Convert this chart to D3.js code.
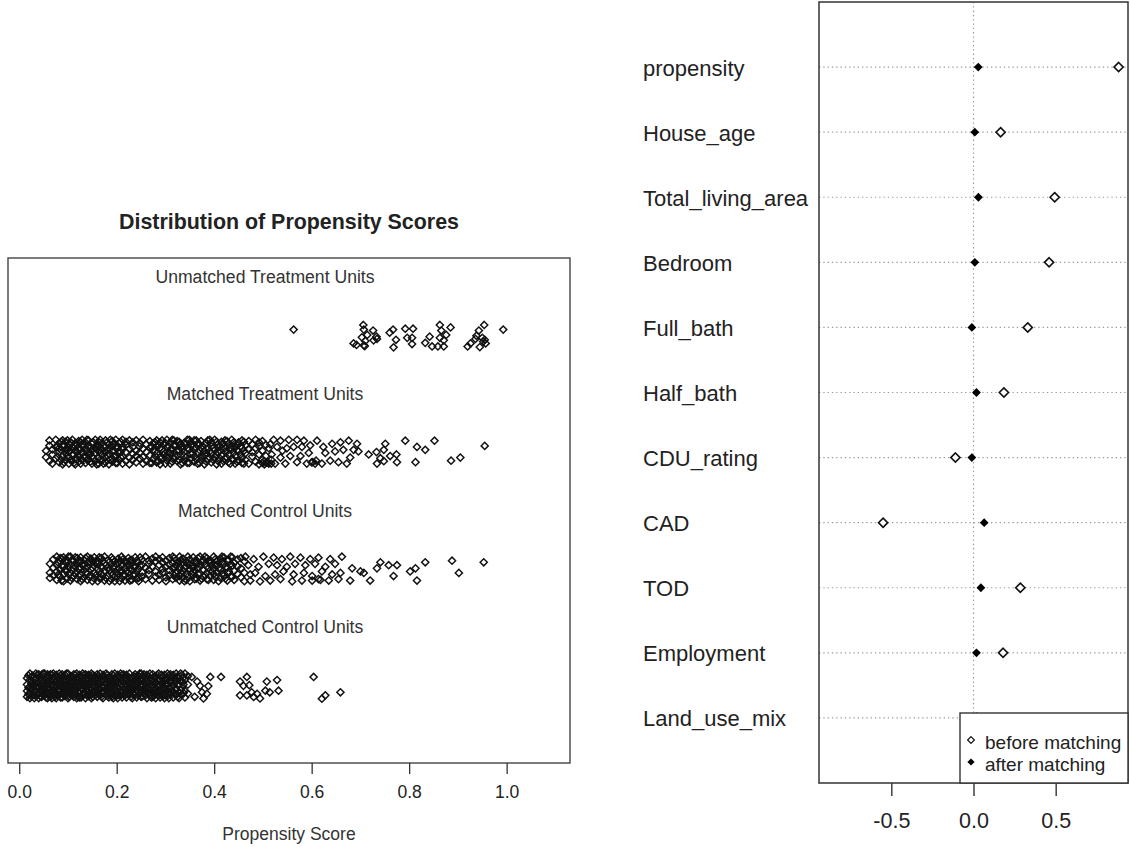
<!DOCTYPE html>
<html>
<head>
<meta charset="utf-8">
<script src="https://cdn.jsdelivr.net/npm/d3@7"></script>
<style>
  body { margin: 0; background: #fff; }
  text { font-family: "Liberation Sans", Arial, sans-serif; fill: #222; }
</style>
</head>
<body>
<script>
// ---------- balance plot (right) ----------
var covariates = ["propensity", "House_age", "Total_living_area", "Bedroom", "Full_bath",
                  "Half_bath", "CDU_rating", "CAD", "TOD", "Employment", "Land_use_mix"]
var beforeMatch = [0.883, 0.165, 0.494, 0.46, 0.33, 0.185, -0.11, -0.55, 0.285, 0.18, 0.02]
var afterMatch  = [0.029, 0.008, 0.03, 0.008, -0.01, 0.018, -0.01, 0.065, 0.045, 0.018, 0.01]
var balTicks = [-0.5, 0, 0.5]

// ---------- jitter plot (left) ----------
// points are [propensity score, vertical jitter in -1..1]
var groupNames = ["Unmatched Treatment Units", "Matched Treatment Units",
                  "Matched Control Units", "Unmatched Control Units"]
var psTicks = [0, 0.2, 0.4, 0.6, 0.8, 1.0]

var unmatchedTreat = [
  [0.563,0.43],[0.706,0.79],[0.707,0.43],[0.726,0.36],[0.714,0.02],[0.733,-0.12],[0.686,-0.64],
  [0.692,-0.76],[0.707,-0.79],[0.710,-0.45],[0.727,-0.40],[0.734,-0.29],[0.703,-0.17],[0.709,-0.85],
  [0.760,0.19],[0.767,0.43],[0.773,-0.36],[0.768,-0.95],[0.792,0.5],[0.808,0.5],[0.796,-0.21],
  [0.806,-0.21],[0.806,-0.69],[0.842,-0.12],[0.833,-0.6],[0.847,-0.88],[0.863,0.79],[0.866,0.36],
  [0.885,0.6],[0.863,-0.21],[0.871,-0.4],[0.876,0.02],[0.859,-0.88],[0.871,-0.88],[0.954,0.79],
  [0.943,0.36],[0.938,-0.05],[0.936,-0.29],[0.926,-0.64],[0.920,-0.88],[0.945,-0.93],[0.955,-0.36],
  [0.957,-0.64],[0.950,-0.21],[0.952,-0.5],[0.993,0.43]
]

var matchedTreatCols = [
  [0.055,[0.1,-0.4]],[0.062,[0.5,-0.7,0.9]],[0.068,[0.2,-0.2,-0.9]],[0.075,[0.95,0.4,-0.5]],
  [0.082,[0.7,0.0,-0.8,0.3]],[0.089,[0.9,-0.3,0.5,-0.95]],[0.095,[0.2,-0.6,0.8,-0.1]],
  [0.102,[0.6,-0.9,0.0,0.35,-0.45]],[0.109,[0.95,-0.2,0.4,-0.7]],[0.115,[0.1,0.7,-0.5,-0.95,0.45]],
  [0.122,[0.85,-0.35,0.2,-0.75]],[0.129,[0.5,-0.1,-0.6,0.95,0.0]],[0.136,[0.3,-0.85,0.75,-0.4]],
  [0.142,[0.9,0.0,-0.55,0.45,-0.2]],[0.149,[0.65,-0.9,0.15,-0.35]],[0.156,[0.95,0.3,-0.7,-0.05]],
  [0.163,[0.5,-0.45,0.8,-0.9,0.1]],[0.170,[0.2,-0.25,0.7,-0.65]],[0.177,[0.9,-0.8,0.4,0.0,-0.4]],
  [0.184,[0.6,-0.15,-0.95,0.3]],[0.191,[0.85,0.05,-0.5,0.45,-0.75]],[0.198,[0.35,-0.3,0.95,-0.85]],
  [0.205,[0.7,-0.6,0.1,-0.1]],[0.212,[0.95,0.4,-0.9,-0.35,0.2]],[0.219,[0.55,-0.7,0.0,0.8]],
  [0.226,[0.25,-0.45,0.9,-0.95]],[0.233,[0.75,-0.15,0.4,-0.6]],[0.240,[0.9,0.1,-0.8,-0.3]],
  [0.247,[0.45,-0.5,0.7,-0.05]],[0.254,[0.95,-0.9,0.25,-0.4]],[0.261,[0.6,0.0,-0.7]],
  [0.268,[0.85,-0.25,0.35,-0.85]],[0.275,[0.15,-0.55,0.7]],[0.282,[0.9,0.45,-0.8,-0.1]],
  [0.289,[0.3,-0.4,0.75,-0.95]],[0.296,[0.6,-0.2,0.05]],[0.303,[0.95,-0.65,0.4,-0.35]],
  [0.310,[0.2,0.75,-0.9,-0.1]],[0.317,[0.5,-0.45,0.9]],[0.324,[0.85,0.1,-0.7,-0.25]],
  [0.331,[0.35,-0.95,0.65]],[0.338,[0.7,-0.3,0.0,-0.6]],[0.345,[0.95,0.3,-0.85]],
  [0.352,[0.5,-0.15,-0.5,0.8]],[0.359,[0.2,-0.75,0.9,-0.35]],[0.366,[0.65,0.0,-0.9]],
  [0.373,[0.85,-0.4,0.35,-0.65]],[0.380,[0.1,0.6,-0.2,-0.95]],[0.387,[0.9,-0.55,0.3]],
  [0.394,[0.45,-0.1,-0.8,0.75]],[0.401,[0.95,0.15,-0.4]],[0.408,[0.6,-0.7,0.0,0.35]],
  [0.415,[0.8,-0.25,-0.9]],[0.422,[0.3,0.9,-0.5,0.05]],[0.429,[0.65,-0.8,-0.2]],
  [0.436,[0.95,0.2,-0.55,0.5]],[0.443,[0.4,-0.3,-0.9]],[0.450,[0.75,0.05,-0.65]],
  [0.457,[0.9,-0.45,0.3,-0.85]],[0.464,[0.55,-0.1,-0.6]],[0.471,[0.2,0.85,-0.9]],
  [0.478,[0.6,-0.35,0.0]],[0.485,[0.95,-0.75,0.3]],[0.492,[0.45,-0.2,-0.95,0.75]],
  [0.499,[0.1,-0.6,0.85,-0.85]],[0.506,[0.55,-0.85,-0.3]],[0.512,[0.3,-0.9]]
]
// extra points in the darkest parts of the matched-treatment band
var matchedTreatCols2 = [
  [0.079,[0.45,-0.35]],[0.086,[-0.6,0.15,0.8]],[0.092,[0.55,-0.8]],[0.099,[0.9,-0.3,0.2]],
  [0.106,[-0.65,0.75]],[0.112,[0.3,-0.2,-0.85]],[0.119,[0.6,-0.55,0.0]],[0.126,[0.2,-0.9,0.75]],
  [0.132,[0.55,-0.35]],[0.139,[-0.6,0.1,0.95]],[0.146,[0.35,-0.1,-0.75]],[0.152,[0.75,-0.5]],
  [0.159,[0.2,-0.95,0.55]],[0.166,[0.95,-0.05,-0.6]],[0.173,[0.45,-0.9]],[0.180,[0.75,-0.25,0.15]],
  [0.187,[0.95,-0.6]],[0.194,[0.15,-0.35,0.65]],[0.201,[-0.85,0.4]],[0.208,[0.8,-0.4,0.0]],
  [0.272,[0.4,-0.85]],[0.279,[0.05,-0.3,0.75]],[0.286,[0.55,-0.7]],[0.293,[0.9,-0.45,0.2]],
  [0.300,[-0.9,0.7]],[0.307,[0.45,-0.4,-0.05]],[0.314,[0.2,-0.75,0.95]],[0.321,[0.55,-0.4]],
  [0.328,[0.1,-0.6,0.8]],[0.335,[0.45,-0.85,0.2]],[0.342,[-0.4,0.65]],[0.349,[0.2,-0.85,0.95]],
  [0.356,[0.6,-0.1]],[0.363,[0.35,-0.55,0.9]],[0.370,[0.15,-0.85,0.6]],[0.377,[0.45,-0.35]],
  [0.384,[0.7,-0.1,-0.75]],[0.391,[0.05,-0.45,0.95]],[0.398,[0.3,-0.6]],[0.405,[0.8,-0.2,-0.95]],
  [0.412,[0.45,0.1,-0.5]],[0.419,[0.65,-0.7]],[0.426,[0.05,-0.45,0.85]],[0.433,[0.35,-0.9]],
  [0.440,[0.75,-0.05,-0.6]],[0.447,[0.15,0.55,-0.75]],[0.454,[0.45,-0.2]],[0.461,[0.8,0.1,-0.9]],
  [0.503,[-0.7,-0.95]],[0.510,[-0.8]],[0.517,[-0.9,-0.6]]
]
var matchedTreatTail = [
  [0.522,0.95],[0.536,0.88],[0.553,0.95],[0.570,0.95],[0.584,0.88],[0.529,0.4],[0.549,0.29],
  [0.563,0.4],[0.580,0.4],[0.597,0.52],[0.518,-0.19],[0.536,-0.43],[0.556,-0.31],[0.577,-0.31],
  [0.594,-0.07],[0.525,-0.9],[0.546,-0.9],[0.570,-0.79],[0.590,-0.9],[0.602,-0.79],[0.611,0.88],
  [0.624,0.4],[0.642,0.64],[0.659,0.76],[0.676,0.88],[0.693,0.64],[0.628,-0.07],[0.648,0.05],
  [0.665,0.17],[0.686,0.17],[0.696,0.05],[0.638,-0.67],[0.655,-0.79],[0.672,-0.9],[0.679,-0.43],
  [0.621,-0.9],[0.600,-0.8],[0.607,-0.9],[0.609,-0.67],[0.515,0.6],[0.540,0.1],
  [0.717,-0.19],[0.733,0.0],[0.741,-0.48],[0.751,0.64],[0.761,-0.31],[0.774,-0.19],[0.775,-0.79],
  [0.734,-0.9],[0.748,-0.71],[0.748,0.17],[0.792,0.88],[0.816,0.4],[0.833,0.17],[0.852,0.88],
  [0.813,-0.79],[0.886,-0.67],[0.905,-0.43],[0.955,0.48]
]

var matchedCtrlCols = [
  [0.063,[0.4,-0.3,-0.7]],[0.070,[0.75,0.1,-0.5]],[0.077,[0.95,0.3,-0.2,-0.85]],
  [0.084,[0.6,-0.05,-0.6,0.85]],[0.091,[0.9,0.2,-0.4,-0.95]],[0.098,[0.5,-0.15,-0.75,0.7]],
  [0.105,[0.95,0.35,-0.3,-0.9]],[0.112,[0.65,0.0,-0.55,0.25]],[0.119,[0.85,-0.2,-0.8,0.4]],
  [0.126,[0.1,0.55,-0.45,-0.95,0.9]],[0.133,[0.7,-0.1,-0.65,0.3]],[0.140,[0.95,0.15,-0.35,-0.85]],
  [0.147,[0.5,-0.5,0.8,-0.05]],[0.154,[0.25,-0.75,0.9,-0.3]],[0.161,[0.65,0.0,-0.95,0.4]],
  [0.168,[0.85,-0.4,0.2,-0.7]],[0.175,[0.45,-0.15,-0.9,0.95]],[0.182,[0.7,0.1,-0.55]],
  [0.189,[0.9,-0.3,0.35,-0.8]],[0.196,[0.2,-0.6,0.6,-0.95]],[0.203,[0.8,0.0,-0.4,0.45]],
  [0.210,[0.95,-0.75,0.25,-0.2]],[0.217,[0.55,-0.5,-0.9,0.1]],[0.224,[0.35,0.85,-0.3,-0.65]],
  [0.231,[0.7,-0.1,-0.85,0.4]],[0.238,[0.9,0.2,-0.45]],[0.245,[0.5,-0.7,0.0,-0.95]],
  [0.252,[0.75,-0.25,0.3,-0.6]],[0.259,[0.95,0.1,-0.8]],[0.266,[0.4,-0.4,0.65,-0.1]],
  [0.273,[0.8,-0.9,0.2]],[0.280,[0.6,-0.2,-0.6,0.95]],[0.287,[0.3,0.75,-0.45,-0.85]],
  [0.294,[0.9,0.0,-0.3,0.5]],[0.301,[0.65,-0.65,-0.95,0.15]],[0.308,[0.85,-0.1,0.35,-0.5]],
  [0.315,[0.45,-0.8,0.95,0.05]],[0.322,[0.7,-0.35,-0.7,0.25]],[0.329,[0.95,0.1,-0.55,-0.9]],
  [0.336,[0.5,-0.2,0.8,-0.65]],[0.343,[0.2,-0.85,0.6,-0.4]],[0.350,[0.75,0.0,-0.95,0.35]],
  [0.357,[0.9,-0.5,0.15,-0.25]],[0.364,[0.55,-0.75,0.4]],[0.371,[0.3,0.95,-0.35,-0.9]],
  [0.378,[0.7,-0.1,-0.6]],[0.385,[0.85,0.2,-0.8,-0.3]],[0.392,[0.45,-0.55,0.65]],
  [0.399,[0.95,0.0,-0.4,-0.85]],[0.406,[0.6,-0.25,0.3]],[0.413,[0.8,-0.7,-0.05]],
  [0.420,[0.35,0.9,-0.5]],[0.427,[0.65,-0.9,0.1,-0.3]],[0.434,[0.95,0.4,-0.6]],
  [0.441,[0.5,-0.15,-0.85]],[0.448,[0.2,0.75,-0.4]],[0.455,[0.85,-0.65,0.05]],
  [0.462,[0.6,-0.95,-0.3]]
]
// extra points in the darkest parts of the matched-control band
var matchedCtrlCols2 = [
  [0.080,[0.5,-0.45]],[0.087,[0.25,-0.9,0.8]],[0.094,[0.6,-0.1]],[0.101,[0.15,-0.4,0.95]],
  [0.108,[0.7,-0.7]],[0.115,[0.2,-0.35,0.9]],[0.122,[0.6,0.05,-0.55]],[0.129,[0.3,-0.8]],
  [0.136,[0.85,-0.3,0.05]],[0.143,[0.55,-0.6]],[0.150,[0.1,-0.95,0.6]],[0.157,[0.5,-0.5]],
  [0.164,[0.9,-0.2,-0.7]],[0.171,[0.1,0.6,-0.5]],[0.178,[0.3,-0.7]],[0.185,[0.55,-0.1,-0.95]],
  [0.192,[0.75,0.1,-0.45]],[0.199,[0.4,-0.3]],[0.206,[0.6,-0.2,-0.95]],[0.213,[0.35,0.75,-0.5]],
  [0.220,[0.55,-0.15]],[0.227,[0.05,-0.9,0.65]],[0.234,[0.2,-0.45]],[0.241,[0.65,-0.2,-0.75]],
  [0.248,[0.25,0.9]],[0.318,[0.15,-0.5,0.85]],[0.325,[0.45,-0.2]],[0.332,[0.35,-0.35,0.7]],
  [0.339,[0.05,-0.95]],[0.346,[0.45,-0.6,0.95]],[0.353,[0.2,-0.35]],[0.360,[0.6,-0.1,-0.8]],
  [0.367,[0.05,-0.4,0.85]],[0.374,[0.55,-0.75]],[0.381,[0.35,-0.5,0.95]],[0.388,[0.05,-0.85,0.6]],
  [0.395,[0.25,-0.2]],[0.402,[0.75,-0.6,0.3]],[0.409,[0.05,-0.95]],[0.416,[0.55,-0.4,0.95]],
  [0.423,[0.1,-0.75]],[0.430,[0.7,-0.2]],[0.437,[0.25,-0.6,0.9]]
]
var matchedCtrlTail = [
  [0.464,0.95],[0.481,0.76],[0.501,0.95],[0.522,0.88],[0.539,0.76],[0.556,0.95],[0.577,0.88],
  [0.597,0.76],[0.614,0.88],[0.638,0.76],[0.662,0.95],[0.470,0.29],[0.491,0.17],[0.512,0.4],
  [0.529,0.29],[0.549,0.17],[0.566,0.4],[0.587,0.29],[0.607,0.4],[0.628,0.17],[0.648,0.4],
  [0.474,-0.43],[0.484,-0.31],[0.505,-0.55],[0.525,-0.43],[0.542,-0.19],[0.563,-0.43],
  [0.584,-0.31],[0.601,-0.55],[0.621,-0.19],[0.642,-0.43],[0.659,-0.31],[0.474,-0.9],
  [0.494,-0.97],[0.515,-0.9],[0.536,-0.79],[0.560,-0.97],[0.580,-0.9],[0.601,-0.9],[0.614,-0.79],
  [0.618,-0.85],[0.635,-0.9],[0.655,-0.79],
  [0.679,-0.9],[0.683,0.05],[0.700,-0.19],[0.707,-0.31],[0.720,-0.9],[0.734,0.05],[0.741,0.52],
  [0.758,0.29],[0.768,-0.55],[0.775,0.29],[0.802,-0.19],[0.813,0.05],[0.833,0.52],[0.816,-0.9],
  [0.888,0.64],[0.902,-0.31],[0.953,0.52]
]

var unmatchedCtrlCols = [
  [0.016,[0.6,0.1,-0.4,-0.85]],[0.022,[0.95,0.45,-0.05,-0.55,-0.95]],[0.028,[0.8,0.3,-0.2,-0.7,0.0]],
  [0.034,[0.95,0.6,0.15,-0.35,-0.8]],[0.040,[0.7,0.25,-0.15,-0.6,-0.95,0.9]],
  [0.046,[0.85,0.4,0.0,-0.45,-0.85]],[0.052,[0.95,0.55,0.1,-0.3,-0.75,0.3]],
  [0.058,[0.75,0.2,-0.25,-0.65,-0.95,0.9]],[0.064,[0.9,0.45,0.05,-0.4,-0.85]],
  [0.070,[0.65,0.15,-0.3,-0.7,0.95,-0.05]],[0.076,[0.85,0.4,-0.1,-0.55,-0.95]],
  [0.082,[0.95,0.5,0.2,-0.25,-0.7,-0.45]],[0.088,[0.7,0.3,-0.15,-0.6,-0.9,0.9]],
  [0.094,[0.85,0.45,0.0,-0.4,-0.8]],[0.100,[0.95,0.6,0.15,-0.3,-0.75,-0.95]],
  [0.106,[0.75,0.25,-0.2,-0.55,0.45]],[0.112,[0.9,0.5,0.05,-0.35,-0.85]],
  [0.118,[0.65,0.2,-0.25,-0.7,0.95,-0.95]],[0.124,[0.85,0.4,-0.05,-0.5,-0.9]],
  [0.130,[0.95,0.55,0.15,-0.3,-0.7]],[0.136,[0.7,0.25,-0.15,-0.6,-0.95,0.9]],
  [0.142,[0.85,0.45,0.0,-0.45,-0.8]],[0.148,[0.95,0.6,0.2,-0.25,-0.7,-0.95]],
  [0.154,[0.75,0.3,-0.1,-0.55,0.5]],[0.160,[0.9,0.5,0.05,-0.4,-0.85]],
  [0.166,[0.65,0.15,-0.3,-0.75,0.95]],[0.172,[0.85,0.4,-0.05,-0.5,-0.95]],
  [0.178,[0.95,0.55,0.2,-0.3,-0.7]],[0.184,[0.7,0.3,-0.2,-0.6,0.0,-0.9]],
  [0.190,[0.9,0.45,0.0,-0.45,-0.85]],[0.196,[0.6,0.2,-0.25,-0.7,0.95]],
  [0.202,[0.85,0.4,-0.1,-0.55,-0.95]],[0.208,[0.95,0.55,0.1,-0.35,-0.75]],
  [0.214,[0.7,0.25,-0.2,-0.65,0.9]],[0.220,[0.85,0.45,0.0,-0.45,-0.9]],
  [0.226,[0.95,0.6,0.15,-0.3,-0.7]],[0.232,[0.65,0.2,-0.25,-0.6,-0.95]],
  [0.238,[0.9,0.4,-0.05,-0.5,0.7]],[0.244,[0.8,0.3,-0.15,-0.75,-0.4]],
  [0.250,[0.95,0.5,0.1,-0.35,-0.85]],[0.256,[0.7,0.25,-0.2,-0.6,0.9]],
  [0.262,[0.85,0.4,-0.05,-0.5,-0.95]],[0.268,[0.6,0.15,-0.3,-0.7,0.95]],
  [0.274,[0.9,0.45,0.0,-0.45,-0.85]],[0.280,[0.75,0.3,-0.15,-0.6,-0.95]],
  [0.286,[0.95,0.5,0.05,-0.35,-0.75]],[0.292,[0.65,0.2,-0.25,-0.7,0.85]],
  [0.298,[0.85,0.4,-0.1,-0.55,-0.95]],[0.304,[0.95,0.55,0.1,-0.4,-0.8]],
  [0.310,[0.7,0.25,-0.2,-0.65,0.9]],[0.316,[0.85,0.0,-0.45,-0.9]],[0.322,[0.95,0.45,-0.3,-0.7]],
  [0.328,[0.6,0.15,-0.55,-0.95]],[0.334,[0.85,0.35,-0.15,-0.7]],[0.340,[0.5,-0.4,-0.9,0.95]],
  [0.346,[0.75,0.1,-0.6]]
]
// second layer of the solid unmatched-control band, between the columns above
var unmatchedCtrlCols2 = [
  [0.019,[0.8,-0.15,-0.65]],[0.025,[0.7,0.2,-0.3,-0.8]],[0.031,[0.5,-0.45,-0.95]],
  [0.037,[0.85,0.35,-0.1,-0.6]],[0.043,[0.6,-0.3,-0.8]],[0.049,[0.95,0.2,-0.2,-0.65]],
  [0.055,[0.5,0.0,-0.5,-0.9]],[0.061,[0.7,0.25,-0.2,-0.7]],[0.067,[0.85,0.35,-0.55,-0.95]],
  [0.073,[0.5,-0.2,-0.45,-0.85]],[0.079,[0.7,0.15,-0.3,-0.75]],[0.085,[0.8,0.0,-0.9,0.35]],
  [0.091,[0.65,0.15,-0.25,-0.65]],[0.097,[0.95,0.3,-0.15,-0.55]],[0.103,[0.5,-0.05,-0.45,-0.85]],
  [0.109,[0.7,0.25,-0.25,-0.7]],[0.115,[0.85,0.35,-0.15,-0.6]],[0.121,[0.5,0.0,-0.45,-0.85]],
  [0.127,[0.7,0.25,-0.2,-0.9]],[0.133,[0.85,0.4,-0.5,0.05]],[0.139,[0.55,0.1,-0.35,-0.75]],
  [0.145,[0.75,0.3,-0.15,-0.6]],[0.151,[0.85,0.05,-0.4,-0.85]],[0.157,[0.6,0.2,-0.25,-0.7]],
  [0.163,[0.75,0.3,-0.15,-0.6]],[0.169,[0.45,0.0,-0.45,-0.85]],[0.175,[0.7,0.25,-0.1,-0.5]],
  [0.181,[0.85,0.45,-0.35,-0.8]],[0.187,[0.6,0.2,-0.2,-0.65]],[0.193,[0.8,0.25,-0.3,-0.95]],
  [0.199,[0.45,0.05,-0.4,-0.8]],[0.205,[0.7,0.25,-0.2,-0.7]],[0.211,[0.85,0.4,-0.5,-0.9]],
  [0.217,[0.55,0.15,-0.3,-0.75]],[0.223,[0.7,0.25,-0.2,-0.6]],[0.229,[0.45,-0.05,-0.45,-0.85]],
  [0.235,[0.75,0.3,-0.15,-0.7]],[0.241,[0.55,0.1,-0.3,-0.9]],[0.247,[0.7,0.25,-0.55,0.95]],
  [0.253,[0.45,0.0,-0.4,-0.8]],[0.259,[0.6,0.15,-0.3,-0.75]],[0.265,[0.75,0.25,-0.2,-0.6]],
  [0.271,[0.45,0.0,-0.45,-0.9]],[0.277,[0.65,0.2,-0.3,-0.75]],[0.283,[0.85,0.4,-0.05,-0.5]],
  [0.289,[0.45,0.0,-0.45,-0.9]],[0.295,[0.7,0.25,-0.3,-0.8]],[0.301,[0.6,0.15,-0.25,-0.7]],
  [0.307,[0.8,0.35,-0.5,-0.95]],[0.313,[0.45,-0.1,-0.4]],[0.319,[0.6,0.2,-0.65]],
  [0.325,[0.75,0.05,-0.85]],[0.331,[0.4,-0.35,0.95]],[0.337,[0.65,0.1,-0.55]]
]
var unmatchedCtrlTail = [
  [0.392,0.69],[0.388,-0.02],[0.375,-0.5],[0.378,-0.98],[0.365,0.33],[0.354,0.69],[0.371,0.0],
  [0.385,-0.62],[0.360,-0.85],[0.414,0.69],[0.453,0.33],[0.467,0.69],[0.460,0.0],[0.472,0.05],
  [0.453,-0.74],[0.467,-0.74],[0.477,-0.5],[0.488,-0.62],[0.494,-0.98],[0.508,0.33],[0.505,-0.38],
  [0.514,-0.5],[0.529,0.45],[0.532,-0.38],[0.481,-0.86],[0.604,0.69],[0.628,-0.74],[0.621,-1.0],
  [0.659,-0.5]
]

// unpack [score, [jitters]] columns into points
const unpack = function(cols) {
  var pts = []
  for (let c of cols) {
    for (let j of c[1]) { pts.push([c[0], j]) }
  }
  return pts
}

var groups = [
  unmatchedTreat,
  unpack(matchedTreatCols).concat(unpack(matchedTreatCols2), matchedTreatTail),
  unpack(matchedCtrlCols).concat(unpack(matchedCtrlCols2), matchedCtrlTail),
  unpack(unmatchedCtrlCols).concat(unpack(unmatchedCtrlCols2), unmatchedCtrlTail)
]
var groupLevel = [4, 3, 2, 1]
var jitterAmt = 0.11

var width = 1130, height = 847
var svg = d3.select("body").append("svg")
            .attr("width", width)
            .attr("height", height)

const diamond = function(r) {
  return "M0," + (-r) + "L" + r + ",0L0," + r + "L" + (-r) + ",0Z"
}
const fmt = function(d) { return d3.format(".1f")(d).replace("\u2212", "-") }

// ===== left panel =====
var L = {left: 8, right: 570, top: 258, bottom: 763}
var xPs = d3.scaleLinear().domain([-0.023, 1.13]).range([L.left, L.right])
var yPs = d3.scaleLinear().domain([0.34, 4.66]).range([L.bottom, L.top])

svg.append("text")
   .attr("x", (L.left + L.right) / 2)
   .attr("y", 222)
   .attr("text-anchor", "middle")
   .attr("dominant-baseline", "central")
   .style("font-size", "21.4px")
   .style("font-weight", "bold")
   .text("Distribution of Propensity Scores")

groups.forEach(function(pts, gi) {
  svg.append("text")
     .attr("x", (L.left + L.right) / 2 - 24)
     .attr("y", yPs(groupLevel[gi] + 0.5))
     .attr("text-anchor", "middle")
     .attr("dominant-baseline", "central")
     .style("font-size", "17.6px")
     .style("fill", "#333")
     .text(groupNames[gi])

  svg.append("g")
     .selectAll("path")
     .data(pts)
     .enter()
     .append("path")
     .attr("d", diamond(3.6))
     .attr("transform", function(d) {
       return "translate(" + xPs(d[0]) + "," + yPs(groupLevel[gi] + d[1] * jitterAmt) + ")"
     })
     .attr("fill", "none")
     .attr("stroke", "#111")
     .attr("stroke-width", 1.45)
})

svg.append("rect")
   .attr("x", L.left).attr("y", L.top)
   .attr("width", L.right - L.left).attr("height", L.bottom - L.top)
   .attr("fill", "none").attr("stroke", "#444").attr("stroke-width", 1.4)

var xAxisL = svg.append("g")
   .attr("transform", "translate(0," + L.bottom + ")")
   .call(d3.axisBottom(xPs).tickValues(psTicks).tickFormat(fmt)
           .tickSize(11).tickPadding(12))
xAxisL.select(".domain").remove()
xAxisL.selectAll("line").attr("stroke", "#333").attr("stroke-width", 1.3)
xAxisL.selectAll("text").style("font-size", "17.5px").style("font-family", "Liberation Sans, Arial, sans-serif").attr("fill", "#333")

svg.append("text")
   .attr("x", (L.left + L.right) / 2)
   .attr("y", 834)
   .attr("text-anchor", "middle")
   .attr("dominant-baseline", "central")
   .style("font-size", "17.5px")
   .style("fill", "#333")
   .text("Propensity Score")

// ===== right panel =====
var R = {left: 819, right: 1128, top: 2, bottom: 783}
var xBal = d3.scaleLinear().domain([-0.94, 0.94]).range([R.left, R.right])
var yBal = d3.scaleLinear().domain([0, 12]).range([R.bottom, R.top])
var rowOf = function(i) { return covariates.length - i }

covariates.forEach(function(name, i) {
  var y = yBal(rowOf(i))
  svg.append("line")
     .attr("x1", R.left).attr("x2", R.right)
     .attr("y1", y).attr("y2", y)
     .attr("stroke", "#999").attr("stroke-width", 1.2)
     .attr("stroke-dasharray", "1.3,3")
  svg.append("text")
     .attr("x", 643)
     .attr("y", y + 1)
     .attr("dominant-baseline", "central")
     .style("font-size", "22px")
     .text(name)
})

svg.append("line")
   .attr("x1", xBal(0)).attr("x2", xBal(0))
   .attr("y1", R.top).attr("y2", R.bottom)
   .attr("stroke", "#999").attr("stroke-width", 1.2)
   .attr("stroke-dasharray", "1.3,3")

svg.append("g").selectAll("path")
   .data(beforeMatch)
   .enter().append("path")
   .attr("d", diamond(4.6))
   .attr("transform", function(d, i) { return "translate(" + xBal(d) + "," + yBal(rowOf(i)) + ")" })
   .attr("fill", "#fff").attr("stroke", "#111").attr("stroke-width", 1.6)

svg.append("g").selectAll("path")
   .data(afterMatch)
   .enter().append("path")
   .attr("d", diamond(4.4))
   .attr("transform", function(d, i) { return "translate(" + xBal(d) + "," + yBal(rowOf(i)) + ")" })
   .attr("fill", "#000")

svg.append("rect")
   .attr("x", R.left).attr("y", R.top)
   .attr("width", R.right - R.left).attr("height", R.bottom - R.top)
   .attr("fill", "none").attr("stroke", "#333").attr("stroke-width", 1.5)

var xAxisR = svg.append("g")
   .attr("transform", "translate(0," + R.bottom + ")")
   .call(d3.axisBottom(xBal).tickValues(balTicks).tickFormat(fmt)
           .tickSize(13).tickPadding(17))
xAxisR.select(".domain").remove()
xAxisR.selectAll("line").attr("stroke", "#333").attr("stroke-width", 1.4)
xAxisR.selectAll("text").style("font-size", "21.5px").style("font-family", "Liberation Sans, Arial, sans-serif").attr("fill", "#222")

// legend (drawn over the last row, as in the original)
var leg = svg.append("g")
leg.append("rect")
   .attr("x", 960).attr("y", 713)
   .attr("width", R.right - 960).attr("height", R.bottom - 713)
   .attr("fill", "#fff").attr("stroke", "#333").attr("stroke-width", 1.4)
var legItems = ["before matching", "after matching"]
legItems.forEach(function(t, i) {
  var y = 741 + i * 22
  leg.append("path")
     .attr("d", diamond(i == 0 ? 3.4 : 3.6))
     .attr("transform", "translate(971," + (y - 1) + ")")
     .attr("fill", i == 0 ? "#fff" : "#000")
     .attr("stroke", i == 0 ? "#111" : "none")
     .attr("stroke-width", 1.2)
  leg.append("text")
     .attr("x", 985)
     .attr("y", y + 1)
     .attr("dominant-baseline", "central")
     .style("font-size", "19px")
     .text(t)
})
</script>
</body>
</html>
